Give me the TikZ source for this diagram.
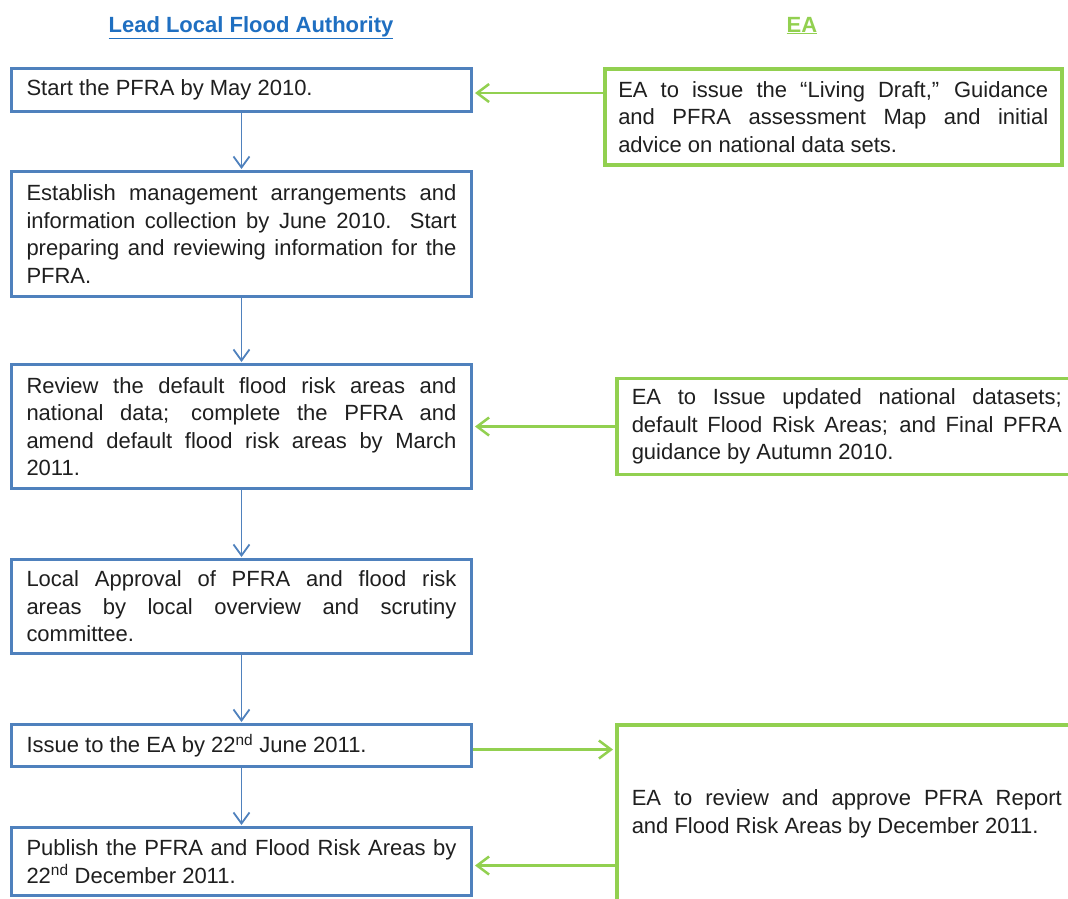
\documentclass[tikz,border=0pt]{standalone}
\usepackage{fontspec}
\setmainfont{Liberation Sans}
\usetikzlibrary{positioning,arrows.meta}
\definecolor{llfablue}{HTML}{4F81BD}
\definecolor{eagreen}{HTML}{92D050}
\definecolor{headblue}{HTML}{1F6FC1}
\hyphenpenalty=10000
\exhyphenpenalty=10000

\begin{document}
\begin{tikzpicture}[
  node distance=57pt and 142pt,
  lbox/.style={draw=llfablue, line width=3pt, fill=white, text width=430pt, inner xsep=15pt, inner ysep=0pt, align=justify, text=black!88, font=\fontsize{22}{27.5}\selectfont},
  ebox/.style={lbox, draw=eagreen, line width=3.5pt},
  head/.style={anchor=base, font=\fontsize{22}{26}\selectfont\bfseries},
  down/.style={-{Straight Barb[length=11pt,width=16pt]}, draw=llfablue, line width=1.8pt, shorten >=1pt},
  side/.style={-{Straight Barb[length=12pt,width=18pt]}, draw=eagreen, line width=2.5pt, shorten >=2pt}
]
\clip (0pt,0pt) rectangle (1068pt,-898pt);

% lead local flood authority column
\node[head, text=headblue] (lhead) at (251pt,-32pt) {\underline{Lead Local Flood Authority}};
\node[lbox, minimum height=43pt] (b1) at (241.5pt,-90pt) {Start the PFRA by May 2010.};
\node[lbox, minimum height=125pt, below=57pt of b1] (b2) {Establish management arrangements and\linebreak information collection by June 2010. Start\linebreak preparing and reviewing information for the\linebreak PFRA.};
\node[lbox, minimum height=124pt, below=65pt of b2] (b3) {Review the default flood risk areas and\linebreak national data; complete the PFRA and\linebreak amend default flood risk areas by March\linebreak 2011.};
\node[lbox, minimum height=94pt, below=68pt of b3] (b4) {Local Approval of PFRA and flood risk\linebreak areas by local overview and scrutiny\linebreak committee.};
\node[lbox, minimum height=42pt, below=68pt of b4] (b5) {Issue to the EA by 22\textsuperscript{nd} June 2011.};
\node[lbox, minimum height=68pt, below=58pt of b5] (b6) {Publish the PFRA and Flood Risk Areas by\linebreak 22\textsuperscript{nd} December 2011.};

% EA column
\node[head, text=eagreen] (ehead) at (802pt,-32pt) {\underline{EA}};
\node[ebox, inner xsep=13.5pt, minimum height=96pt, right=130pt of b1.north east, anchor=north west] (g1) {EA to issue the “Living Draft,” Guidance\linebreak and PFRA assessment Map and initial\linebreak advice on national data sets.};
\node[ebox, minimum height=96pt, right=of b3] (g2) {EA to Issue updated national datasets;\linebreak default Flood Risk Areas; and Final PFRA\linebreak guidance by Autumn 2010.};
\node[ebox, minimum height=178pt, right=of b5.north east, anchor=north west] (g3) {EA to review and approve PFRA Report\linebreak and Flood Risk Areas by December 2011.};

\draw[down] (b1) -- (b2);
\draw[down] (b2) -- (b3);
\draw[down] (b3) -- (b4);
\draw[down] (b4) -- (b5);
\draw[down] (b5) -- (b6);

\draw[side] ([yshift=-3pt]g1.west |- b1.east) -- ([yshift=-3pt]b1.east);
\draw[side] (g2.west |- b3.east) -- (b3.east);
\draw[side] ([yshift=-4pt]b5.east) -- ([yshift=-4pt]b5.east -| g3.west);
\draw[side] ([yshift=-4pt]g3.west |- b6.east) -- ([yshift=-4pt]b6.east);
\end{tikzpicture}
\end{document}
